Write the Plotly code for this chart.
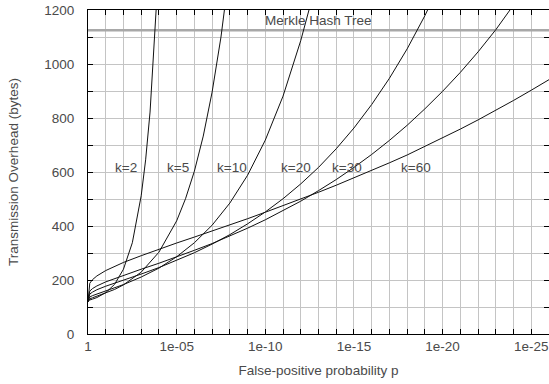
import plotly.graph_objects as go

# x = decades below 1 (p = 10^-x)
x_k2 = [0, 0.1, 0.25, 0.5, 1, 1.5, 2, 2.5, 3, 3.25, 3.5, 3.75, 4]
y_k2 = [120, 126, 129, 135, 153, 184, 240, 338, 512, 645, 822, 1058, 1374]

x_k5 = [0, 0.1, 0.25, 0.5, 1, 1.5, 2, 3, 4, 5, 5.5, 6, 6.5, 7, 7.5, 8]
y_k5 = [120, 130, 134, 140, 152, 165, 182, 229, 303, 419, 501, 603, 733, 896, 1100, 1358]

x_k10 = [0, 0.1, 0.25, 0.5, 1, 1.5, 2, 3, 4, 5, 6, 7, 8, 9, 10, 11, 12, 12.5, 13]
y_k10 = [120, 137, 142, 148, 160, 171, 183, 211, 244, 286, 338, 403, 485, 588, 718, 881, 1087, 1209, 1345]

x_k20 = [0, 0.1, 0.25, 0.5, 1, 1.5, 2, 3, 4, 5, 6, 7, 8, 9, 10, 11, 12, 13, 14, 15, 16, 17, 18, 19, 20]
y_k20 = [120, 148, 155, 164, 177, 188, 200, 222, 246, 273, 301, 333, 368, 408, 452, 501, 556, 617, 686, 763, 850, 947, 1056, 1179, 1316]

x_k30 = [0, 0.1, 0.25, 0.5, 1, 1.5, 2, 3, 4, 5, 6, 7, 8, 9, 10, 11, 12, 13, 14, 15, 16, 17, 18, 19, 20, 21, 22, 23, 24, 25]
y_k30 = [120, 159, 168, 178, 193, 205, 217, 240, 262, 285, 310, 335, 363, 392, 423, 456, 492, 531, 572, 617, 665, 717, 773, 834, 899, 969, 1045, 1127, 1215, 1310]

x_k60 = [0, 0.1, 0.25, 0.5, 1, 1.5, 2, 3, 4, 5, 6, 7, 8, 9, 10, 11, 12, 13, 14, 15, 16, 17, 18, 19, 20, 21, 22, 23, 24, 25, 26]
y_k60 = [120, 188, 201, 215, 235, 251, 265, 290, 314, 337, 359, 381, 404, 427, 451, 475, 499, 525, 551, 578, 605, 634, 663, 694, 726, 759, 793, 828, 865, 903, 942]

merkle_value = 1125
merkle_label = "Merkle Hash Tree"

series = [("k=2", x_k2, y_k2), ("k=5", x_k5, y_k5), ("k=10", x_k10, y_k10),
          ("k=20", x_k20, y_k20), ("k=30", x_k30, y_k30), ("k=60", x_k60, y_k60)]
label_x = [2.15, 5.1, 8.12, 11.73, 14.62, 18.51]
label_y = 615

x_tickvals = list(range(0, 27))
x_ticktext = ["1" if v == 0 else ("1e-%02d" % v if v % 5 == 0 else "") for v in x_tickvals]
y_tickvals = list(range(0, 1201, 100))
y_ticktext = [str(v) if v % 200 == 0 else "" for v in y_tickvals]

FONT = "Liberation Sans, Arial, sans-serif"
TXT = "#4a4a4a"

fig = go.Figure()
fig.add_trace(go.Scatter(x=[0, 26.5], y=[merkle_value, merkle_value], mode="lines",
                         line=dict(color="#a8a8a8", width=2.5), hoverinfo="skip"))
for name, xs, ys in series:
    fig.add_trace(go.Scatter(x=xs, y=ys, mode="lines", name=name,
                             line=dict(color="#111111", width=1)))

annotations = []
for (name, _, _), lx in zip(series, label_x):
    annotations.append(dict(x=lx, y=label_y, text=name, showarrow=False,
                            font=dict(family=FONT, size=13.5, color=TXT)))
annotations.append(dict(x=13, y=1160, text=merkle_label, showarrow=False,
                        font=dict(family=FONT, size=13.5, color=TXT)))

fig.update_layout(
    width=549, height=384,
    margin=dict(l=88, r=0, t=10, b=50),
    paper_bgcolor="white", plot_bgcolor="white",
    showlegend=False,
    annotations=annotations,
    font=dict(family=FONT, size=13.5, color=TXT),
    xaxis=dict(range=[0, 26], tickvals=x_tickvals, ticktext=x_ticktext,
               automargin=False,
               showgrid=True, gridcolor="#c4c4c4", gridwidth=1,
               showline=True, linecolor="black", linewidth=1, mirror="ticks",
               ticks="inside", ticklen=5, tickcolor="black", zeroline=False,
               title=dict(text="False-positive probability p", standoff=12,
                          font=dict(family=FONT, size=13.5, color=TXT)),
               tickfont=dict(family=FONT, size=13.5, color=TXT)),
    yaxis=dict(range=[0, 1200], tickvals=y_tickvals, ticktext=y_ticktext,
               automargin=False,
               showgrid=True, gridcolor="#c4c4c4", gridwidth=1,
               showline=True, linecolor="black", linewidth=1, mirror="ticks",
               ticks="inside", ticklen=5, tickcolor="black", zeroline=False,
               ticklabelstandoff=10,
               title=dict(text="Transmission Overhead (bytes)", standoff=22,
                          font=dict(family=FONT, size=13.5, color=TXT)),
               tickfont=dict(family=FONT, size=13.5, color=TXT)),
)

fig.write_html("out.html", config={"responsive": False, "displayModeBar": False},
               post_script="document.body.style.margin='0';")
